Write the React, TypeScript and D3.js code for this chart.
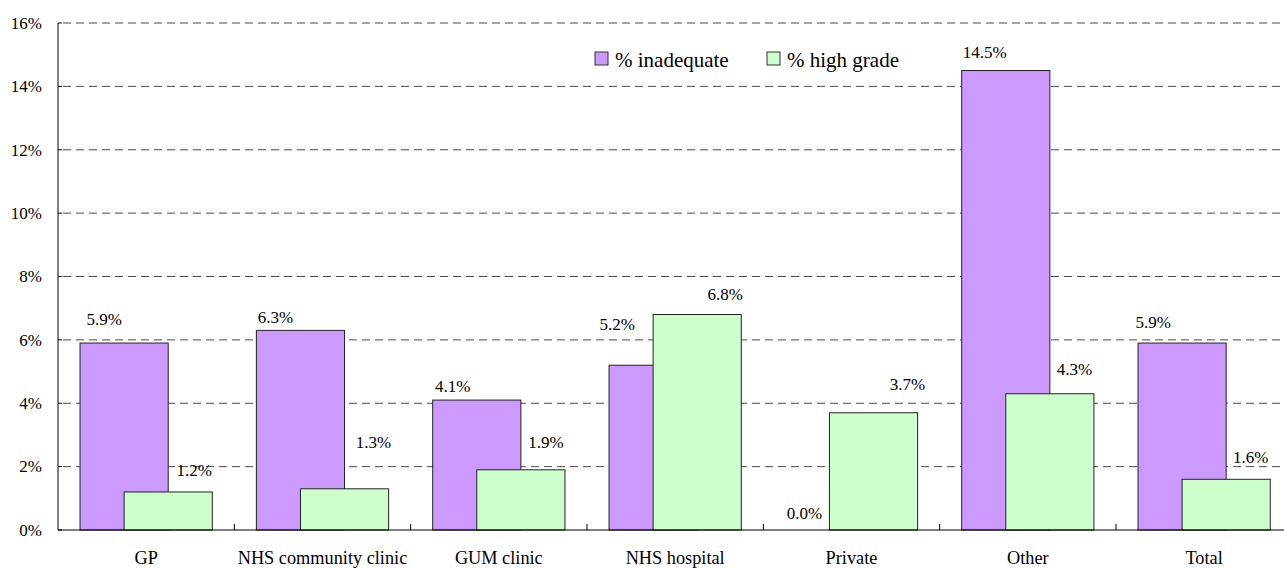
import React from "react";
import * as d3 from "d3";

const categories = ["GP", "NHS community clinic", "GUM clinic", "NHS hospital", "Private", "Other", "Total"];
const inadequate = [5.9, 6.3, 4.1, 5.2, 0.0, 14.5, 5.9];
const highGrade = [1.2, 1.3, 1.9, 6.8, 3.7, 4.3, 1.6];
const yTicks = [0, 2, 4, 6, 8, 10, 12, 14, 16];
const seriesNames = ["% inadequate", "% high grade"];

// layout-only nudges for the hand-placed data labels (px, relative to bar centre / bar top)
const purpleLabelNudge: [number, number][] = [[-20, -18], [-25, -7], [-24, -8], [-36, -35], [-25, -11], [-21, -13], [-29, -15]];
const greenLabelNudge: [number, number][] = [[26, -16], [29, -41], [25, -22], [28, -15], [34, -23], [24.5, -18.5], [24.5, -16]];

const W = 1284;
const H = 568;
const left = 58;
const catW = 176.33;
const y0 = 530;
const yTop = 23;
const PURPLE = "#CC99FF";
const GREEN = "#CCFFCC";
const FONT = "'Liberation Serif', 'Times New Roman', serif";

export default function App() {
  const x = d3.scaleBand<string>().domain(categories).range([left, left + catW * categories.length]).paddingInner(0).paddingOuter(0);
  const y = d3.scaleLinear().domain([0, 16]).range([y0, yTop]);
  const bw = x.bandwidth();
  const barW = bw / 2;
  const pOff = bw / 8;
  const gOff = (3 * bw) / 8;

  return (
    <svg width={W} height={H} style={{ position: "absolute", left: 0, top: 0, background: "#fff" }} fontFamily={FONT}>
      {yTicks.filter((t) => t > 0).map((t) => (
        <line key={"g" + t} x1={left + 5} x2={W} y1={y(t)} y2={y(t)} stroke="#4a4a4a" strokeWidth={1} strokeDasharray="8,5" />
      ))}
      {yTicks.map((t) => (
        <g key={"t" + t}>
          <line x1={left} x2={left + 4} y1={y(t)} y2={y(t)} stroke="#000" />
          <text x={42} y={y(t) + 5.8} textAnchor="end" fontSize={17}>{t}%</text>
        </g>
      ))}
      {categories.map((c, i) => (
        <g key={"b" + c}>
          {inadequate[i] > 0 && (
            <rect x={(x(c) as number) + pOff} y={y(inadequate[i])} width={barW} height={y0 - y(inadequate[i])} fill={PURPLE} stroke="#222" strokeWidth={1} />
          )}
          <rect x={(x(c) as number) + gOff} y={y(highGrade[i])} width={barW} height={y0 - y(highGrade[i])} fill={GREEN} stroke="#222" strokeWidth={1} />
        </g>
      ))}
      <line x1={left} x2={left} y1={yTop} y2={y0} stroke="#000" />
      <line x1={left} x2={W} y1={y0} y2={y0} stroke="#000" />
      {categories.map((c) => (
        <line key={"xt" + c} x1={(x(c) as number) + bw} x2={(x(c) as number) + bw} y1={y0} y2={y0 - 6} stroke="#000" />
      ))}
      {categories.map((c) => (
        <text key={"c" + c} x={(x(c) as number) + bw / 2} y={564} textAnchor="middle" fontSize={18.3}>{c}</text>
      ))}
      {categories.map((c, i) => {
        const pc = (x(c) as number) + pOff + barW / 2;
        const gc = (x(c) as number) + gOff + barW / 2;
        return (
          <g key={"l" + c}>
            <text x={pc + purpleLabelNudge[i][0]} y={y(inadequate[i]) + purpleLabelNudge[i][1]} textAnchor="middle" fontSize={17}>{inadequate[i].toFixed(1)}%</text>
            <text x={gc + greenLabelNudge[i][0]} y={y(highGrade[i]) + greenLabelNudge[i][1]} textAnchor="middle" fontSize={17}>{highGrade[i].toFixed(1)}%</text>
          </g>
        );
      })}
      <rect x={595} y={52} width={13} height={13} fill={PURPLE} stroke="#333" />
      <text x={615} y={66.5} fontSize={21}>{seriesNames[0]}</text>
      <rect x={767} y={52} width={13} height={13} fill={GREEN} stroke="#333" />
      <text x={787} y={66.5} fontSize={21}>{seriesNames[1]}</text>
    </svg>
  );
}
